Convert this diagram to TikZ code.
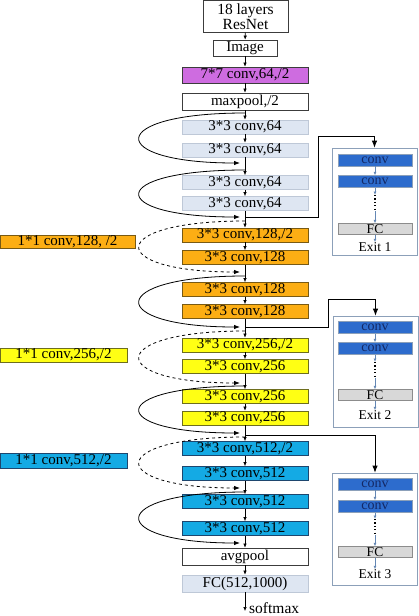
\documentclass[tikz,border=0pt]{standalone}
\usepackage{fontspec}
\setmainfont{Liberation Serif}
\usetikzlibrary{arrows.meta}
\definecolor{boxline}{RGB}{60,60,60}
\definecolor{violetfill}{RGB}{206,108,224}
\definecolor{lightfill}{RGB}{222,230,242}
\definecolor{lightline}{RGB}{190,200,215}
\definecolor{orangefill}{RGB}{252,174,20}
\definecolor{orangeline}{RGB}{120,90,20}
\definecolor{yellowfill}{RGB}{255,255,20}
\definecolor{yellowline}{RGB}{110,110,30}
\definecolor{bluefill}{RGB}{20,170,228}
\definecolor{blueline}{RGB}{30,70,110}
\definecolor{exitline}{RGB}{140,160,185}
\definecolor{exitconv}{RGB}{45,108,205}
\definecolor{exittext}{RGB}{20,40,100}
\definecolor{fcfill}{RGB}{216,216,216}
\definecolor{fcline}{RGB}{140,140,140}
\definecolor{thinarrow}{RGB}{100,135,180}
\begin{document}
\begin{tikzpicture}[x=1pt,y=-1pt,
every node/.append style={inner sep=0pt},
layer/.style={draw, line width=0.7pt, minimum width=126pt, minimum height=14pt, font=\fontsize{15}{15}\selectfont},
plain/.style={layer, draw=boxline, fill=white},
c64/.style={layer, draw=lightline, fill=lightfill},
c128/.style={layer, draw=orangeline, fill=orangefill},
c256/.style={layer, draw=yellowline, fill=yellowfill},
c512/.style={layer, draw=blueline, fill=bluefill},
flow/.style={-{Latex[length=4pt,width=3.5pt]}, line width=0.6pt},
skip/.style={-{Latex[length=6pt,width=4.5pt]}, line width=0.8pt},
exitpath/.style={-{Latex[length=7pt,width=5.5pt]}, line width=0.8pt},
exitbox/.style={draw=exitline, line width=0.8pt, fill=white, minimum width=85pt},
econv/.style={draw=exitline, fill=exitconv, text=exittext, minimum width=74pt, minimum height=12pt, font=\fontsize{14}{14}\selectfont},
efc/.style={draw=fcline, fill=fcfill, minimum width=74pt, minimum height=11pt, font=\fontsize{13.5}{13.5}\selectfont},
elabel/.style={font=\fontsize{13.5}{13.5}\selectfont},
earrow/.style={-{Latex[length=3.5pt,width=3pt]}, draw=thinarrow, fill=thinarrow, line width=0.7pt},
dots/.style={line width=1.2pt, dash pattern=on 1.2pt off 2.2pt}]
\useasboundingbox (0,0) rectangle (419,616);
\node [plain, minimum width=85pt, minimum height=31.5pt, align=center, font=\fontsize{15.5}{14.5}\selectfont] (title) at (245.5,16.5) {18 layers\\ResNet};
\node [plain, minimum width=64pt, minimum height=16pt] (image) at (245,48) {Image};
\node [layer, draw=boxline, fill=violetfill, minimum height=16pt] (conv7) at (245,75) {7*7 conv,64,/2};
\node [plain, minimum height=17pt] (maxpool) at (245,101.5) {maxpool,/2};
\node [c64] (a1) at (245,127) {3*3 conv,64};
\node [c64] (a2) at (245,150) {3*3 conv,64};
\node [c64] (a3) at (245,182.5) {3*3 conv,64};
\node [c64] (a4) at (245,203.5) {3*3 conv,64};
\node [c128] (b1) at (245,235) {3*3 conv,128,/2};
\node [c128] (b2) at (245,257.5) {3*3 conv,128};
\node [c128] (b3) at (245,289.5) {3*3 conv,128};
\node [c128] (b4) at (245,311.5) {3*3 conv,128};
\node [c256] (c1) at (245,345) {3*3 conv,256,/2};
\node [c256] (c2) at (245,366.5) {3*3 conv,256};
\node [c256] (c3) at (245,396.5) {3*3 conv,256};
\node [c256] (c4) at (245,418) {3*3 conv,256};
\node [c512] (d1) at (245,448.5) {3*3 conv,512,/2};
\node [c512] (d2) at (245,473.5) {3*3 conv,512};
\node [c512] (d3) at (245,501.5) {3*3 conv,512};
\node [c512] (d4) at (245,528.5) {3*3 conv,512};
\node [plain, minimum height=17pt] (avgpool) at (245,556.5) {avgpool};
\node [c64, minimum height=17pt] (fc) at (245,583.5) {FC(512,1000)};
\coordinate (out) at (245,611);
\node [anchor=west, font=\fontsize{15.5}{15}\selectfont] (softmax) at (249,608) {softmax};
\node [c128, minimum width=135pt, minimum height=13pt] (down1) at (67.5,241.5) {1*1 conv,128, /2};
\node [c256, minimum width=127pt, minimum height=14pt] (down2) at (63.5,355) {1*1 conv,256,/2};
\node [c512, minimum width=127pt, minimum height=15pt] (down3) at (63.5,460.5) {1*1 conv,512,/2};
\draw [flow] (title) -- (image);
\draw [flow] (image) -- (conv7);
\draw [flow] (conv7) -- (maxpool);
\draw [flow] (maxpool) -- (a1);
\draw [flow] (a1) -- (a2);
\draw [flow] (a2) -- (a3);
\draw [flow] (a3) -- (a4);
\draw [flow] (a4) -- (b1);
\draw [flow] (b1) -- (b2);
\draw [flow] (b2) -- (b3);
\draw [flow] (b3) -- (b4);
\draw [flow] (b4) -- (c1);
\draw [flow] (c1) -- (c2);
\draw [flow] (c2) -- (c3);
\draw [flow] (c3) -- (c4);
\draw [flow] (c4) -- (d1);
\draw [flow] (d1) -- (d2);
\draw [flow] (d2) -- (d3);
\draw [flow] (d3) -- (d4);
\draw [flow] (d4) -- (avgpool);
\draw [flow] (avgpool) -- (fc);
\draw [flow] (fc) -- (out);
\coordinate (s1) at (245,113);
\coordinate (t1) at (240,163);
\coordinate (s2) at (245,170);
\coordinate (t2) at (240,217);
\coordinate (s3) at (245,221);
\coordinate (t3) at (240,272);
\coordinate (s4) at (245,276);
\coordinate (t4) at (240,327);
\coordinate (s5) at (245,331);
\coordinate (t5) at (240,383);
\coordinate (s6) at (245,386);
\coordinate (t6) at (240,433);
\coordinate (s7) at (245,437);
\coordinate (t7) at (240,488);
\coordinate (s8) at (245,492);
\coordinate (t8) at (240,543);
\draw [skip] (s1) .. controls +(-140,0) and +(-135,0) .. (t1);
\draw [skip] (s2) .. controls +(-140,0) and +(-135,0) .. (t2);
\draw [skip, dashed] (s3) .. controls +(-140,0) and +(-135,0) .. (t3);
\draw [skip] (s4) .. controls +(-140,0) and +(-135,0) .. (t4);
\draw [skip, dashed] (s5) .. controls +(-140,0) and +(-135,0) .. (t5);
\draw [skip] (s6) .. controls +(-140,0) and +(-135,0) .. (t6);
\draw [skip, dashed] (s7) .. controls +(-140,0) and +(-135,0) .. (t7);
\draw [skip] (s8) .. controls +(-140,0) and +(-135,0) .. (t8);
\node [exitbox, minimum height=107pt] (exit1) at (374.5,201.5) {};
\node [econv] (e1a) at (375,160) {conv};
\node [econv] (e1b) at (375,181.5) {conv};
\coordinate (e1top) at (375,195);
\coordinate (e1bot) at (375,211);
\node [efc] (e1fc) at (375,229) {FC};
\node [elabel] (e1lab) at (375,247) {Exit 1};
\draw [earrow] (e1a) -- (e1b);
\draw [earrow] (e1b) -- (e1top);
\draw [dots] (e1top) -- (e1bot);
\draw [earrow] (e1bot) -- (e1fc);
\draw [earrow] (e1fc) -- (e1lab);
\node [exitbox, minimum height=111pt] (exit2) at (375.5,371.5) {};
\node [econv] (e2a) at (375,327.5) {conv};
\node [econv] (e2b) at (375,348.5) {conv};
\coordinate (e2top) at (375,362);
\coordinate (e2bot) at (375,378);
\node [efc] (e2fc) at (375,395) {FC};
\node [elabel] (e2lab) at (375,415) {Exit 2};
\draw [earrow] (e2a) -- (e2b);
\draw [earrow] (e2b) -- (e2top);
\draw [dots] (e2top) -- (e2bot);
\draw [earrow] (e2bot) -- (e2fc);
\draw [earrow] (e2fc) -- (e2lab);
\node [exitbox, minimum height=112pt] (exit3) at (375,529) {};
\node [econv] (e3a) at (375,484) {conv};
\node [econv] (e3b) at (375,506.5) {conv};
\coordinate (e3top) at (375,519);
\coordinate (e3bot) at (375,535);
\node [efc] (e3fc) at (375,552) {FC};
\node [elabel] (e3lab) at (375,574) {Exit 3};
\draw [earrow] (e3a) -- (e3b);
\draw [earrow] (e3b) -- (e3top);
\draw [dots] (e3top) -- (e3bot);
\draw [earrow] (e3bot) -- (e3fc);
\draw [earrow] (e3fc) -- (e3lab);
\coordinate (x1) at (245,217);
\coordinate (x2) at (245,327);
\coordinate (x3) at (245,435);
\draw [exitpath] (x1) -| (318,136) -| (exit1.north);
\draw [exitpath] (x2) -| (328,299) -| (exit2.north);
\draw [exitpath] (x3) -| (exit3.north);
\end{tikzpicture}
\end{document}
